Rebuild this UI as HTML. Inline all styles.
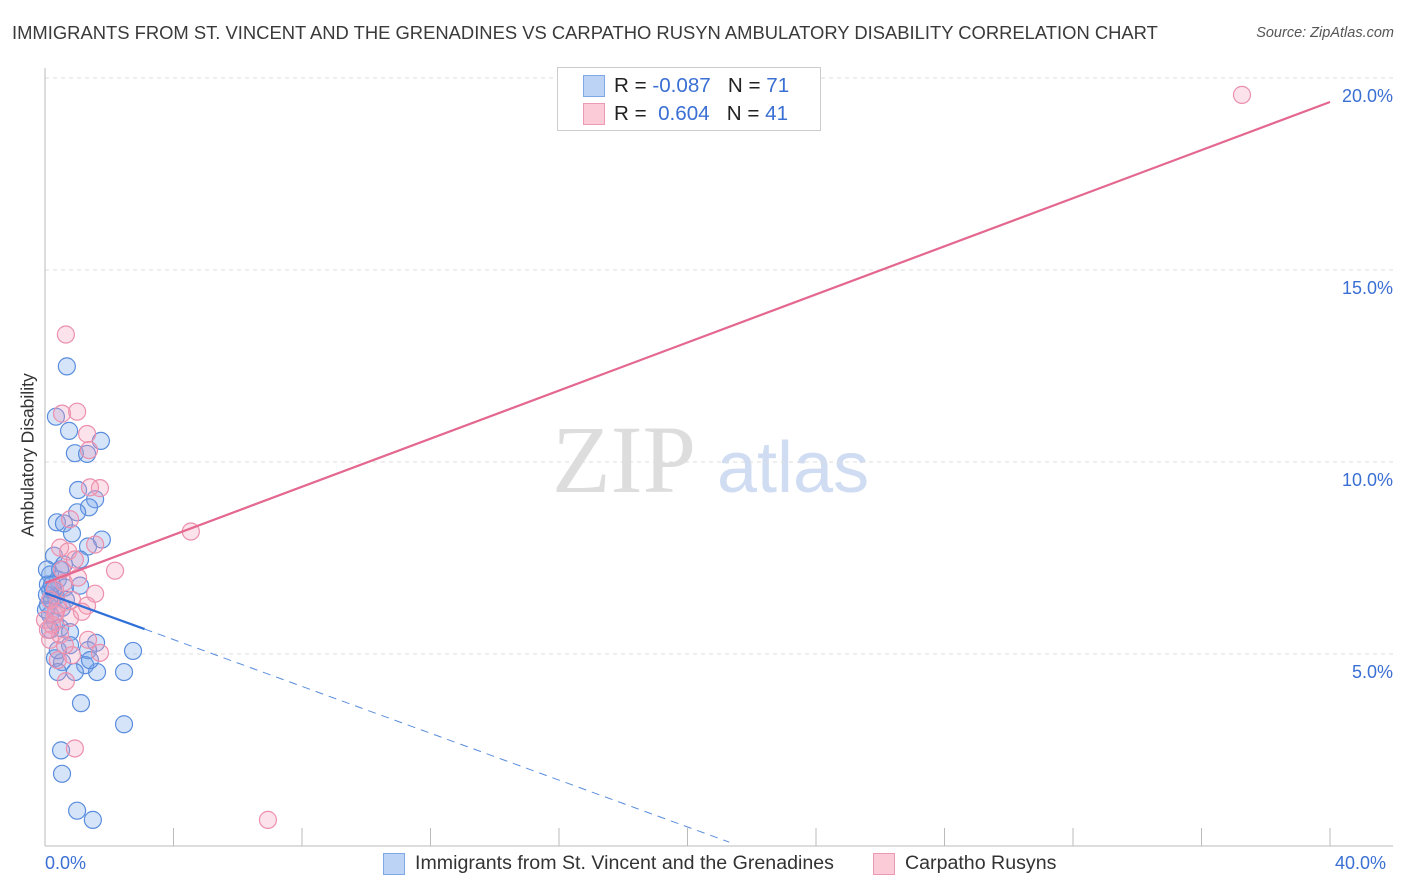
<!DOCTYPE html>
<html><head><meta charset="utf-8"><style>
body{margin:0;background:#fff;font-family:"Liberation Sans",sans-serif;}
#wrap{position:relative;width:1406px;height:892px;overflow:hidden;}
.t{position:absolute;white-space:nowrap;}
</style></head><body>
<div id="wrap">
<div class="t" style="left:12px;top:22px;font-size:18.4px;color:#3a3a3a;">IMMIGRANTS FROM ST. VINCENT AND THE GRENADINES VS CARPATHO RUSYN AMBULATORY DISABILITY CORRELATION CHART</div>
<div class="t" style="right:12px;top:25px;font-size:14.5px;color:#555;font-style:italic;">Source: ZipAtlas.com</div>
<svg id="svg" width="1406" height="892" style="position:absolute;left:0;top:0"></svg>
<div class="t" style="left:557px;top:67px;width:262px;height:62px;border:1px solid #ccc;background:#fff;"></div>
<div class="t" style="left:583px;top:75px;width:20px;height:20px;background:#bcd3f5;border:1px solid #7fa7e6;"></div>
<div class="t" style="left:583px;top:103px;width:20px;height:20px;background:#fbcbd8;border:1px solid #ec9ab4;"></div>
<div class="t" style="left:614px;top:74px;font-size:20.6px;color:#222;">R = <span style="color:#3a6fd3">-0.087</span>&nbsp;&nbsp;&nbsp;N = <span style="color:#3a6fd3">71</span></div>
<div class="t" style="left:614px;top:102px;font-size:20.6px;color:#222;">R = &nbsp;<span style="color:#3a6fd3">0.604</span>&nbsp;&nbsp;&nbsp;N = <span style="color:#3a6fd3">41</span></div>
<div class="t" style="left:28px;top:455px;font-size:17.5px;color:#333;transform:translate(-50%,-50%) rotate(-90deg);">Ambulatory Disability</div>
<div class="t" style="left:45px;top:853px;font-size:18px;color:#3a6fd3;">0.0%</div>
<div class="t" style="left:1335px;top:853px;font-size:18px;color:#3a6fd3;">40.0%</div>
<div class="t" style="left:383px;top:853px;width:20px;height:20px;background:#bcd3f5;border:1px solid #7fa7e6;"></div>
<div class="t" style="left:415px;top:852px;font-size:19.6px;color:#333;">Immigrants from St. Vincent and the Grenadines</div>
<div class="t" style="left:873px;top:853px;width:20px;height:20px;background:#fbcbd8;border:1px solid #ec9ab4;"></div>
<div class="t" style="left:905px;top:852px;font-size:19.6px;color:#333;">Carpatho Rusyns</div>
</div>
<script>
const yTicks=[5,10,15,20];
const yTickLabels=["5.0%","10.0%","15.0%","20.0%"];
const xTicks=[0,4,8,12,16,20,24,28,32,36,40];
const blueX=[0.68,0.34,0.75,1.74,0.93,1.31,1.03,1.56,1.37,1.00,0.37,0.59,0.84,1.77,1.34,0.28,0.59,0.16,0.40,0.16,0.62,1.09,0.34,0.09,0.53,0.16,0.31,0.47,0.78,1.59,1.34,2.74,0.31,0.53,1.25,0.93,1.62,2.46,0.40,1.12,2.46,0.50,0.53,1.00,1.49,0.09,0.22,0.03,0.16,0.65,0.78,0.40,1.40,1.09,0.06,0.25,0.47,0.06,0.22];
const blueY=[12.49,11.18,10.81,10.55,10.23,10.21,9.27,9.03,8.82,8.69,8.43,8.40,8.14,7.98,7.80,7.56,7.33,7.07,6.94,6.67,6.73,6.78,6.49,6.28,6.20,6.02,5.84,5.68,5.57,5.29,5.10,5.08,4.89,4.79,4.71,4.53,4.53,4.53,4.53,3.72,3.17,2.49,1.88,0.92,0.68,6.81,6.41,6.15,5.63,6.41,5.23,5.10,4.84,7.46,7.20,6.67,7.20,6.54,6.81];
const pinkX=[0.65,0.53,1.00,1.31,1.37,1.71,0.78,0.47,0.72,0.93,4.54,2.18,1.03,1.56,0.59,0.31,1.31,0.31,0.78,0.22,0.47,1.34,1.71,0.84,0.65,0.93,6.94,37.26,1.40,0.16,0.40,0.00,0.62,0.16,1.15,0.34,0.53,1.56,0.09,0.84,0.40];
const pinkY=[13.32,11.26,11.31,10.73,10.31,9.32,8.51,7.77,7.67,7.46,8.19,7.17,6.99,6.57,6.86,6.67,6.26,6.02,5.94,5.76,5.50,5.37,5.03,4.97,4.29,2.54,0.68,19.56,9.34,6.41,6.28,5.89,5.23,5.37,6.10,6.10,7.20,7.85,5.63,6.41,4.84];
const blueTrend=[[0,6.59],[3.1,5.65],[21.3,0.10]];
const pinkTrend=[[0,6.85],[40,19.375]];
const X=v=>45+v*1285/40, Y=v=>846-v*38.4;
const s=document.getElementById('svg'),NS="http://www.w3.org/2000/svg";
function mk(t,a){const e=document.createElementNS(NS,t);for(const k in a)e.setAttribute(k,a[k]);s.appendChild(e);return e;}
let g=mk('text',{x:552,y:492,'font-size':96,'font-family':'Liberation Serif','fill':'#ddd'});g.textContent='ZIP';

g=mk('text',{x:717,y:492,'font-size':72,'font-family':'Liberation Sans','fill':'#cfdcf2'});g.textContent='atlas';

yTicks.forEach((v,i)=>{const l=mk('line',{x1:45,x2:1393,y1:Y(v),y2:Y(v),stroke:'#ddd','stroke-dasharray':'4,4'});

const t=mk('text',{x:1393,y:Y(v)+24,'text-anchor':'end','font-size':18,fill:'#3a6fd3','font-family':'Liberation Sans'});t.textContent=yTickLabels[i];
});
let a=mk('line',{x1:45,x2:45,y1:68,y2:846,stroke:'#bbb'});
a=mk('line',{x1:45,x2:1393,y1:846,y2:846,stroke:'#bbb'});
xTicks.forEach(v=>{const l=mk('line',{x1:X(v),x2:X(v),y1:828,y2:846,stroke:'#bbb'});});
blueX.forEach((v,i)=>{const c=mk('circle',{cx:X(v),cy:Y(blueY[i]),r:8.5,fill:'rgba(120,165,235,0.3)',stroke:'#5a8ddd','stroke-width':1.2});
});
pinkX.forEach((v,i)=>{const c=mk('circle',{cx:X(v),cy:Y(pinkY[i]),r:8.5,fill:'rgba(245,160,185,0.3)',stroke:'#eb90ad','stroke-width':1.2});
});
let l=mk('line',{x1:X(pinkTrend[0][0]),y1:Y(pinkTrend[0][1]),x2:X(pinkTrend[1][0]),y2:Y(pinkTrend[1][1]),stroke:'#e4678f','stroke-width':2.2});

l=mk('line',{x1:X(blueTrend[0][0]),y1:Y(blueTrend[0][1]),x2:X(blueTrend[1][0]),y2:Y(blueTrend[1][1]),stroke:'#2f6fd8','stroke-width':2.2});

l=mk('line',{x1:X(blueTrend[1][0]),y1:Y(blueTrend[1][1]),x2:X(blueTrend[2][0]),y2:Y(blueTrend[2][1]),stroke:'#5a8ddd','stroke-width':1,'stroke-dasharray':'8,6'});

</script>
</body></html>
